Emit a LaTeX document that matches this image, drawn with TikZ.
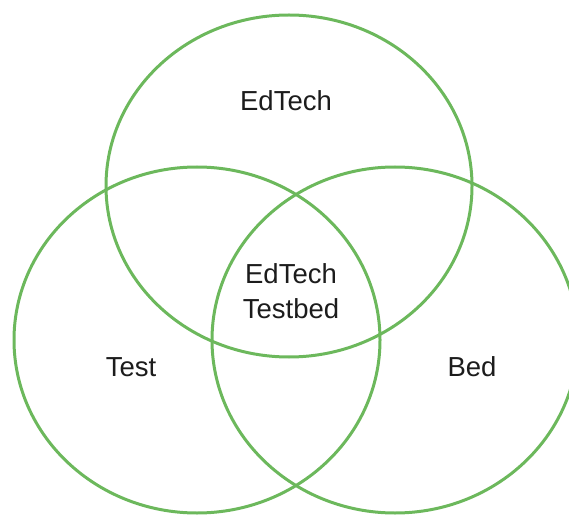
\documentclass[tikz,border=0pt]{standalone}
\usepackage{fontspec}
\setmainfont{Liberation Sans}
\definecolor{vgreen}{RGB}{108,184,92}
\definecolor{vtext}{RGB}{28,28,28}
\begin{document}
\begin{tikzpicture}[x=1pt,y=-1pt,
  setring/.style={draw=vgreen,line width=3pt},
  lbl/.style={text=vtext,font=\fontsize{27.5}{35}\selectfont,align=center,inner sep=0pt}]
\useasboundingbox (0,0) rectangle (569,518);
\begin{scope}
\clip (0,0) rectangle (569,518);
\draw[setring] (289,186) ellipse [x radius=183, y radius=171];
\draw[setring] (197,340) ellipse [x radius=183, y radius=173];
\draw[setring] (395,340) ellipse [x radius=183, y radius=173];
\end{scope}
\node[lbl] (edtech) at (286,101) {EdTech};
\node[lbl] (center) at (291,291) {EdTech\\Testbed};
\node[lbl] (test) at (131,367) {Test};
\node[lbl] (bed) at (472,367) {Bed};
\end{tikzpicture}
\end{document}
